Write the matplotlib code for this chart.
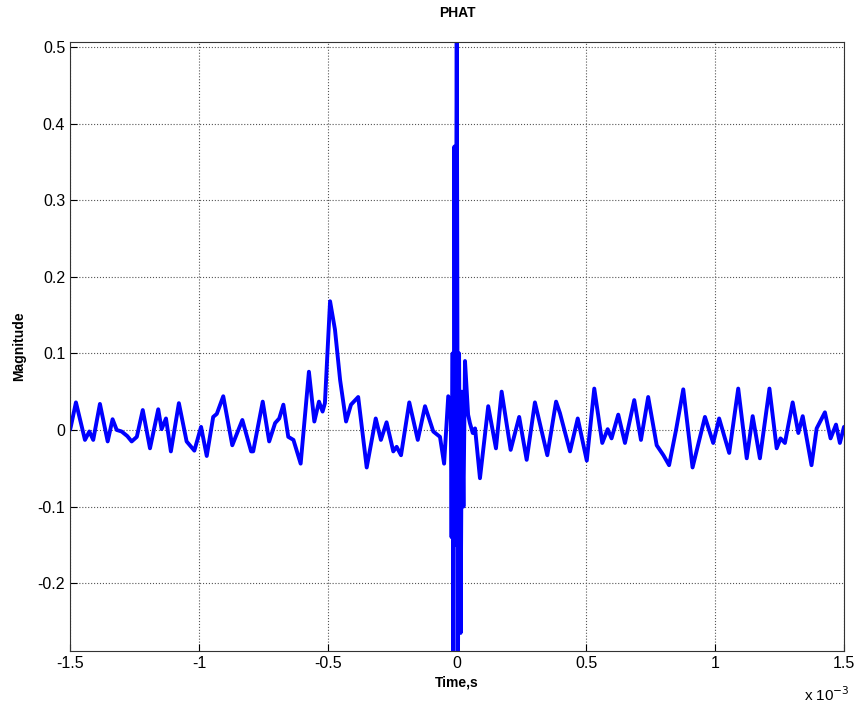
# PHAT 상관 함수 그래프
import matplotlib.pyplot as plt
from matplotlib.ticker import FuncFormatter

plt.rcParams['font.family'] = ['Liberation Sans', 'DejaVu Sans']

# 시간 (ms) / 크기 - 그림에서 읽은 값
time_ms = [-1.500, -1.497, -1.477, -1.442, -1.425, -1.410, -1.384, -1.354, -1.335, -1.319,
           -1.300, -1.278, -1.261, -1.241, -1.218, -1.190, -1.158, -1.145, -1.128, -1.109,
           -1.078, -1.048, -1.018, -0.992, -0.970, -0.945, -0.931, -0.906, -0.871, -0.832,
           -0.798, -0.790, -0.753, -0.728, -0.705, -0.689, -0.673, -0.654, -0.634, -0.606,
           -0.574, -0.553, -0.535, -0.521, -0.512, -0.492, -0.473, -0.453, -0.430, -0.411,
           -0.383, -0.350, -0.315, -0.295, -0.273, -0.247, -0.234, -0.217, -0.185, -0.152,
           -0.124, -0.092, -0.066, -0.050, -0.034,
           -0.024, -0.021, -0.017, -0.014, -0.010, -0.006, -0.001, 0.004, 0.008, 0.014,
           0.019, 0.025, 0.031, 0.043, 0.050,
           0.061, 0.070, 0.089, 0.121, 0.151, 0.173, 0.208, 0.241, 0.270, 0.302,
           0.350, 0.384, 0.399, 0.438, 0.468, 0.503, 0.532, 0.563, 0.584, 0.599,
           0.625, 0.651, 0.687, 0.713, 0.741, 0.774, 0.800, 0.822, 0.849, 0.877,
           0.913, 0.961, 0.993, 1.016, 1.055, 1.090, 1.123, 1.146, 1.174, 1.211,
           1.239, 1.254, 1.271, 1.301, 1.323, 1.340, 1.374, 1.394, 1.426, 1.448,
           1.469, 1.484, 1.500]
magnitude = [0.000, 0.004, 0.036, -0.013, -0.002, -0.013, 0.034, -0.015, 0.014, 0.000,
             -0.002, -0.008, -0.015, -0.009, 0.026, -0.024, 0.027, 0.001, 0.015, -0.028,
             0.035, -0.015, -0.027, 0.004, -0.034, 0.017, 0.021, 0.044, -0.020, 0.013,
             -0.028, -0.028, 0.037, -0.015, 0.009, 0.015, 0.033, -0.009, -0.013, -0.044,
             0.076, 0.011, 0.037, 0.024, 0.035, 0.168, 0.131, 0.065, 0.011, 0.033,
             0.043, -0.049, 0.015, -0.013, 0.010, -0.028, -0.022, -0.033, 0.036, -0.013,
             0.031, -0.002, -0.009, -0.044, 0.044,
             0.015, -0.140, 0.100, -0.289, 0.370, -0.150, 0.560, -0.289, 0.100, -0.265,
             0.050, -0.100, 0.090, 0.020, 0.009,
             -0.004, 0.002, -0.063, 0.031, -0.024, 0.050, -0.026, 0.017, -0.039, 0.036,
             -0.033, 0.037, 0.022, -0.028, 0.015, -0.040, 0.054, -0.017, 0.001, -0.011,
             0.020, -0.017, 0.039, -0.013, 0.043, -0.020, -0.033, -0.046, 0.000, 0.053,
             -0.049, 0.017, -0.017, 0.015, -0.030, 0.054, -0.037, 0.018, -0.037, 0.054,
             -0.024, -0.011, -0.017, 0.036, -0.004, 0.018, -0.046, 0.002, 0.023, -0.011,
             0.007, -0.017, 0.004]

time_s = [t * 1e-3 for t in time_ms]
xticks = [-1.5e-3, -1e-3, -0.5e-3, 0, 0.5e-3, 1e-3, 1.5e-3]
yticks = [-0.2, -0.1, 0, 0.1, 0.2, 0.3, 0.4, 0.5]

fig = plt.figure(figsize=(8.6, 7.07), dpi=100)
ax = fig.add_axes([0.0814, 0.0792, 0.9, 0.8614])
ax.plot(time_s, magnitude, color=(0, 0, 1), linewidth=2.8,
        solid_joinstyle='round', solid_capstyle='round')

ax.set_xlim(-1.5e-3, 1.5e-3)
ax.set_ylim(-0.2886, 0.5065)
ax.set_xticks(xticks)
ax.set_yticks(yticks)
ax.xaxis.set_major_formatter(FuncFormatter(lambda v, p: '%g' % round(v * 1e3, 3)))
ax.yaxis.set_major_formatter(FuncFormatter(lambda v, p: '%g' % round(v, 3)))
ax.tick_params(direction='in', length=5, labelsize=11.5, colors='black')
ax.grid(True, linestyle=':', color='#555555', linewidth=0.8)
for s in ax.spines.values():
    s.set_color('#333333')
    s.set_linewidth(0.8)

ax.set_title('PHAT', fontsize=10, fontweight='bold', pad=18)
ax.set_xlabel('Time,s', fontsize=10, fontweight='bold', labelpad=3)
ax.set_ylabel('Magnitude', fontsize=10, fontweight='bold', labelpad=8)
fig.text(0.935, 0.008, 'x 10$^{-3}$', fontsize=11)

plt.savefig('out.png', dpi=100)
